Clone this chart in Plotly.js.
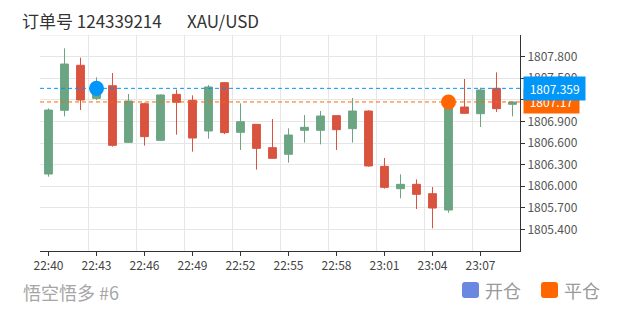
<!DOCTYPE html>
<html>
<head>
<meta charset="utf-8">
<script src="https://cdn.plot.ly/plotly-3.0.1.min.js"></script>
<style>
html,body{margin:0;padding:0;background:#fff;}
#chart{width:620px;height:310px;}
</style>
</head>
<body>
<div id="chart"></div>
<script>
// ---- data ----
const day = '2021-09-01 ';
const times = ['22:40','22:41','22:42','22:43','22:44','22:45','22:46','22:47','22:48','22:49',
               '22:50','22:51','22:52','22:53','22:54','22:55','22:56','22:57','22:58','22:59',
               '23:00','23:01','23:02','23:03','23:04','23:05','23:06','23:07','23:08','23:09'];
const open  = [1806.169,1807.054,1807.679,1807.220,1807.396,1806.609,1807.146,1806.637,1807.276,1807.193,
               1806.767,1807.438,1806.748,1806.859,1806.535,1806.443,1806.776,1806.776,1806.980,1806.799,
               1807.044,1806.276,1805.966,1806.026,1805.896,1805.669,1807.100,1807.007,1807.359,1807.137];
const high  = [1807.081,1807.915,1807.785,1807.512,1807.572,1807.281,1807.160,1807.276,1807.341,1807.262,
               1807.406,1807.447,1807.151,1806.862,1806.933,1806.804,1806.989,1807.044,1806.982,1807.225,
               1807.054,1806.392,1806.165,1806.095,1805.989,1807.200,1807.489,1807.369,1807.581,1807.174];
const low   = [1806.132,1806.970,1807.058,1807.197,1806.549,1806.600,1806.563,1806.630,1806.716,1806.480,
               1806.660,1806.725,1806.503,1806.230,1806.385,1806.327,1806.605,1806.581,1806.503,1806.605,
               1806.271,1805.966,1805.831,1805.683,1805.415,1805.632,1807.010,1806.822,1807.031,1806.970];
const close = [1807.058,1807.697,1807.197,1807.330,1806.568,1807.183,1806.688,1807.267,1807.165,1806.669,
               1807.378,1806.744,1806.896,1806.526,1806.387,1806.711,1806.818,1806.975,1806.785,1807.044,
               1806.281,1805.984,1806.026,1805.887,1805.697,1807.170,1807.012,1807.336,1807.077,1807.169];
const xTickLabels = ['22:40','22:43','22:46','22:49','22:52','22:55','22:58','23:01','23:04','23:07'];
const yTickVals = [1805.4,1805.7,1806.0,1806.3,1806.6,1806.9,1807.2,1807.5,1807.8];
const openTime = '22:43', openPrice = 1807.359;
const closeTime = '23:05', closePrice = 1807.17;
const titleText = '订单号 124339214';
const symbolText = 'XAU/USD';
const footerText = '悟空悟多 #6';
const legendNames = ['开仓','平仓'];
const legendColors = ['#6a88e0','#ff6600'];

// ---- styles ----
const UP = '#6ba583', DOWN = '#d9533f', BLUE = '#0096fa', ORANGE = '#ff6600';
const GRID = '#e6e6e6';
const W = 620, H = 310, L = 40, R = 100, T = 35, B = 59;
const PW = W - L - R, PH = H - T - B;
const px = v => (v - L) / PW;
const py = v => (H - B - v) / PH;
const xRange = [day + '22:39:28.125', day + '23:09:28.125'];
const yRange = [1805.1, 1808.1];

function roundRect(x0, y0, x1, y1, r) {
  const rx = r / PW, ry = r / PH;
  const a = px(x0), b = px(x1), c = py(y1), d = py(y0);
  return `M${a+rx},${d} L${b-rx},${d} Q${b},${d} ${b},${d-ry} L${b},${c+ry} Q${b},${c} ${b-rx},${c} ` +
         `L${a+rx},${c} Q${a},${c} ${a},${c+ry} L${a},${d-ry} Q${a},${d} ${a+rx},${d} Z`;
}

const xs = times.map(t => day + t);

const traces = [
  {
    type: 'candlestick', x: xs, open: open, high: high, low: low, close: close,
    increasing: {line: {color: UP, width: 1}, fillcolor: UP},
    decreasing: {line: {color: DOWN, width: 1}, fillcolor: DOWN},
    whiskerwidth: 0, showlegend: false, hoverinfo: 'skip'
  },
  {type: 'scatter', mode: 'lines', x: xRange, y: [openPrice, openPrice],
   line: {color: BLUE, width: 1, dash: '4px,3px'}, showlegend: false, hoverinfo: 'skip'},
  {type: 'scatter', mode: 'lines', x: xRange, y: [closePrice, closePrice],
   line: {color: ORANGE, width: 1, dash: '4px,3px'}, showlegend: false, hoverinfo: 'skip'},
  {type: 'scatter', mode: 'markers', x: [day + openTime], y: [openPrice],
   marker: {color: BLUE, size: 15}, showlegend: false, hoverinfo: 'skip', cliponaxis: false},
  {type: 'scatter', mode: 'markers', x: [day + closeTime], y: [closePrice],
   marker: {color: ORANGE, size: 15}, showlegend: false, hoverinfo: 'skip', cliponaxis: false}
];

const FONT = '"Noto Sans CJK SC", "Noto Sans", sans-serif';
const nb = '\u00a0';

const annotations = [
  {xref: 'paper', yref: 'paper', x: px(20), y: py(21), xanchor: 'left', yanchor: 'middle',
   text: titleText, showarrow: false, font: {size: 17, color: '#333'}},
  {xref: 'paper', yref: 'paper', x: px(185), y: py(21), xanchor: 'left', yanchor: 'middle',
   text: symbolText, showarrow: false, font: {size: 17, color: '#333'}},
  {xref: 'paper', yref: 'paper', x: px(21), y: py(292), xanchor: 'left', yanchor: 'middle',
   text: footerText, showarrow: false, font: {size: 18, color: '#a6a6a6'}},
  {xref: 'paper', yref: 'paper', x: px(483), y: py(290), xanchor: 'left', yanchor: 'middle',
   text: legendNames[0], showarrow: false, font: {size: 18, color: '#999'}},
  {xref: 'paper', yref: 'paper', x: px(562), y: py(290), xanchor: 'left', yanchor: 'middle',
   text: legendNames[1], showarrow: false, font: {size: 18, color: '#999'}},
  {xref: 'paper', yref: 'y', x: 1, y: closePrice, xanchor: 'left', yanchor: 'middle', xshift: 3,
   text: nb + String(closePrice) + nb, showarrow: false, bgcolor: ORANGE, borderpad: 3,
   font: {size: 12, color: '#fff'}},
  {xref: 'paper', yref: 'y', x: 1, y: openPrice, xanchor: 'left', yanchor: 'middle', xshift: 3,
   text: nb + String(openPrice) + nb, showarrow: false, bgcolor: BLUE, borderpad: 3,
   font: {size: 12, color: '#fff'}}
];

const shapes = [
  {type: 'line', xref: 'paper', yref: 'y', x0: 0, x1: 1, y0: yRange[1], y1: yRange[1],
   line: {color: GRID, width: 1}, layer: 'below'},
  {type: 'path', xref: 'paper', yref: 'paper', path: roundRect(462, 282, 479, 298, 3),
   fillcolor: legendColors[0], line: {width: 0}},
  {type: 'path', xref: 'paper', yref: 'paper', path: roundRect(541, 282, 558, 298, 3),
   fillcolor: legendColors[1], line: {width: 0}}
];

const layout = {
  width: W, height: H,
  margin: {l: L, r: R, t: T, b: B, pad: 0},
  paper_bgcolor: '#fff', plot_bgcolor: '#fff',
  font: {family: FONT, size: 12, color: '#444'},
  showlegend: false, hovermode: false,
  boxgap: 0.3, boxgroupgap: 0.3,
  xaxis: {
    type: 'date', range: xRange, fixedrange: true,
    rangeslider: {visible: false},
    tickmode: 'array', tickvals: xTickLabels.map(t => day + t), ticktext: xTickLabels,
    ticks: 'outside', ticklen: 4, tickcolor: '#333', tickwidth: 1,
    tickfont: {size: 12, color: '#444'},
    showgrid: false, showline: true, linecolor: '#333', linewidth: 1, zeroline: false,
    minor: {tick0: day + '22:39:30', dtick: 180000, showgrid: true, gridcolor: GRID, gridwidth: 1, ticks: ''}
  },
  yaxis: {
    range: yRange, side: 'right', fixedrange: true,
    tickmode: 'array', tickvals: yTickVals, ticktext: yTickVals.map(v => v.toFixed(3)),
    ticks: 'outside', ticklen: 4, tickcolor: '#333', tickwidth: 1,
    tickfont: {size: 12, color: '#555'},
    showgrid: true, gridcolor: GRID, gridwidth: 1,
    showline: true, linecolor: '#333', linewidth: 1, zeroline: false
  },
  annotations: annotations,
  shapes: shapes
};

Plotly.newPlot('chart', traces, layout, {staticPlot: true, displayModeBar: false});
</script>
</body>
</html>
